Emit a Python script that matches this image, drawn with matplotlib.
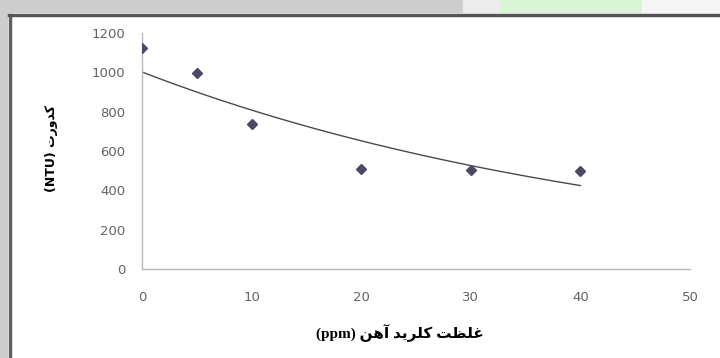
import numpy as np
import matplotlib
matplotlib.use("Agg")
from matplotlib import pyplot as plt
from matplotlib.patches import Rectangle

# غلظت کلرید آهن (ppm) و کدورت (NTU)
dose = [0, 5, 10, 20, 30, 40]
turbidity = [1125, 995, 735, 510, 505, 500]
x_ticks = [0, 10, 20, 30, 40, 50]
y_ticks = [0, 200, 400, 600, 800, 1000, 1200]

x_title = "غلظت کلرید آهن"
x_unit = "(ppm)"
y_title = "کدورت"
y_unit = "(NTU)"

# contextual forms: isolated, final, initial, medial
FORMS = {
    "غ": ("\uFECD", "\uFECE", "\uFECF", "\uFED0"),
    "ل": ("\uFEDD", "\uFEDE", "\uFEDF", "\uFEE0"),
    "ظ": ("\uFEC5", "\uFEC6", "\uFEC7", "\uFEC8"),
    "ت": ("\uFE95", "\uFE96", "\uFE97", "\uFE98"),
    "ک": ("\uFB8E", "\uFB8F", "\uFB90", "\uFB91"),
    "ی": ("\uFBFC", "\uFBFD", "\uFBFE", "\uFBFF"),
    "ه": ("\uFEE9", "\uFEEA", "\uFEEB", "\uFEEC"),
    "ن": ("\uFEE5", "\uFEE6", "\uFEE7", "\uFEE8"),
    "ر": ("\uFEAD", "\uFEAE", None, None),
    "د": ("\uFEA9", "\uFEAA", None, None),
    "و": ("\uFEED", "\uFEEE", None, None),
    "آ": ("\uFE81", "\uFE82", None, None),
}


def dual(c):
    return c in FORMS and FORMS[c][2] is not None


def shape_word(word):
    out = []
    for i, c in enumerate(word):
        if c not in FORMS:
            out.append(c)
            continue
        before = i > 0 and dual(word[i - 1])
        after = i < len(word) - 1 and word[i + 1] in FORMS and dual(c)
        iso, fin, ini, med = FORMS[c]
        if before and after:
            out.append(med)
        elif before:
            out.append(fin)
        elif after:
            out.append(ini)
        else:
            out.append(iso)
    return "".join(reversed(out))


def rtl(text):
    return " ".join(shape_word(w) for w in reversed(text.split()))


fig = plt.figure(figsize=(7.2, 3.58), dpi=100)
W, H = 720, 358

# page background around the chart frame
fig.patches.append(Rectangle((0, 0), 1, 1, transform=fig.transFigure, color="#cdcdcd", zorder=-5))
fig.patches.append(Rectangle((463 / W, (H - 13) / H), 37 / W, 13 / H, transform=fig.transFigure,
                             color="#ececec", zorder=-4))
fig.patches.append(Rectangle((500 / W, (H - 13) / H), 142 / W, 13 / H, transform=fig.transFigure,
                             color="#d9f5d6", zorder=-4))
fig.patches.append(Rectangle((642 / W, (H - 13) / H), 78 / W, 13 / H, transform=fig.transFigure,
                             color="#f6f6f6", zorder=-4))
fig.patches.append(Rectangle((8 / W, 0), 1, (H - 13) / H, transform=fig.transFigure,
                             facecolor="white", edgecolor="none", zorder=-3))
fig.lines.append(plt.Line2D([10 / W, 10 / W], [0, (H - 14.5) / H], transform=fig.transFigure,
                            color="#606060", lw=2.5))
fig.lines.append(plt.Line2D([8.5 / W, 1], [(H - 14.5) / H, (H - 14.5) / H], transform=fig.transFigure,
                            color="#555555", lw=2.5))

ax = fig.add_axes([142 / W, (H - 269) / H, 548 / W, 236 / H])
ax.set_facecolor("none")

# exponential trendline fitted on the measurements
b, a = np.polyfit(dose, np.log(turbidity), 1)
xs = np.linspace(0, max(dose), 100)
ax.plot(xs, np.exp(a) * np.exp(b * xs), color="#4a4a4a", lw=1.0, zorder=2)

ax.plot(dose, turbidity, ls="none", marker="D", markersize=5.5, color="#4a4a68", zorder=3)

ax.set_xlim(0, 50)
ax.set_ylim(0, 1200)
ax.set_xticks(x_ticks)
ax.set_yticks(y_ticks)
for s in ["top", "right"]:
    ax.spines[s].set_visible(False)
for s in ["left", "bottom"]:
    ax.spines[s].set_color("#b8b8b8")
    ax.spines[s].set_linewidth(1.0)
ax.tick_params(axis="both", length=0, labelsize=9.5, labelcolor="#636363")
ax.tick_params(axis="y", pad=12)
ax.tick_params(axis="x", pad=16)
for lab in ax.get_xticklabels() + ax.get_yticklabels():
    lab.set_family("DejaVu Sans")

fig.text(400 / W, (H - 333) / H, x_unit + " " + rtl(x_title), ha="center", va="center",
         fontsize=11, fontweight="bold", family=["Liberation Serif", "DejaVu Sans"])
fig.text(52 / W, (H - 148) / H, y_unit + " " + rtl(y_title), ha="center", va="center",
         rotation=90, fontsize=9, fontweight="bold", family=["DejaVu Sans"])

fig.savefig("out.png", dpi=100)
